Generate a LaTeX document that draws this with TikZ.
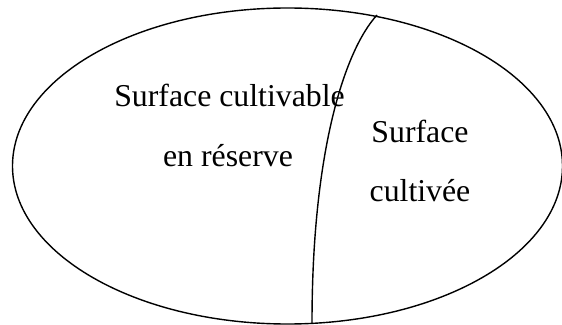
\documentclass[tikz,border=0pt]{standalone}
\usepackage{fontspec}
\setmainfont{Liberation Serif}
\usepackage{tikz}
\usetikzlibrary{calc}

\begin{document}
\begin{tikzpicture}[x=1pt, y=1pt,
		label text/.style={font=\fontsize{31.8}{38}\selectfont, anchor=base, inner sep=0pt},
		contour/.style={line width=1.4pt, black}]
			\useasboundingbox (0,0) rectangle (562,324);
			\coordinate (centre) at (287.5,158);
			\draw[contour] (centre) ellipse [x radius=275, y radius=158];
			\coordinate (haut) at (377,309);
			\coordinate (bas) at (312,1);
			\draw[contour] (haut) .. controls (345,274) and (312,174) .. (bas);
			\node[label text] (reserve1) at (229.5,217) {Surface cultivable};
			\node[label text] (reserve2) at (228,157) {en réserve};
			\node[label text] (cultivee1) at (420,181) {Surface};
			\node[label text] (cultivee2) at (420,122) {cultivée};
		\end{tikzpicture}
\end{document}
